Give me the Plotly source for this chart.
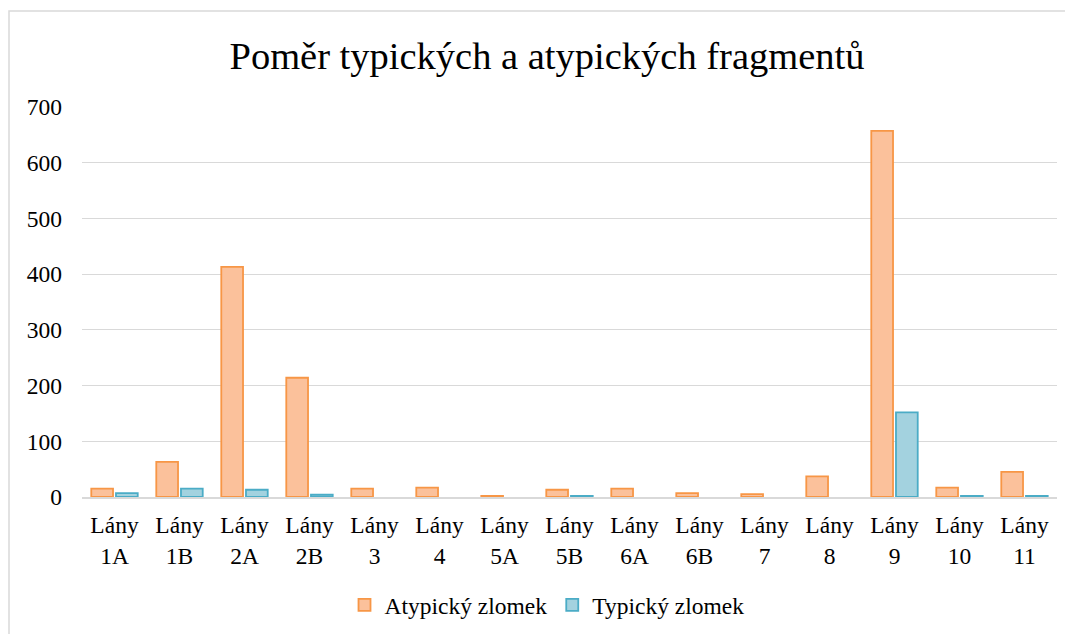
import plotly.graph_objects as go

categories = ["Lány<br>1A", "Lány<br>1B", "Lány<br>2A", "Lány<br>2B", "Lány<br>3", "Lány<br>4",
              "Lány<br>5A", "Lány<br>5B", "Lány<br>6A", "Lány<br>6B", "Lány<br>7", "Lány<br>8",
              "Lány<br>9", "Lány<br>10", "Lány<br>11"]
atypicky = [15, 63, 413, 214, 15, 17, 2, 13, 15, 7, 5, 37, 657, 17, 45]
typicky = [7, 15, 13, 4, 0, 0, 0, 2, 0, 0, 0, 0, 152, 2, 2]

title_text = "Poměr typických a atypických fragmentů"
font_family = "Liberation Serif, Times New Roman, serif"

# page body offset (default 8px margin) compensation
OFF = 8

fig = go.Figure()
fig.add_trace(go.Bar(
    x=categories, y=atypicky, name="Atypický zlomek",
    marker=dict(color="#FBC19B",
                line=dict(color="#F79646", width=[1.8 if v else 0 for v in atypicky])),
))
fig.add_trace(go.Bar(
    x=categories, y=typicky, name="Typický zlomek",
    marker=dict(color="#A3D2DF",
                line=dict(color="#4BACC6", width=[1.8 if v else 0 for v in typicky])),
))

L, T, PW, PH = 82 - OFF, 107 - OFF, 975, 390
W, H = 1073, 634
bottom = T + PH

fig.update_layout(
    width=W, height=H,
    margin=dict(l=L, r=W - L - PW, t=T, b=H - T - PH, autoexpand=False),
    paper_bgcolor="white", plot_bgcolor="white",
    font=dict(family=font_family, size=23.5, color="#000000"),
    barmode="group", bargap=0.24, bargroupgap=0.12,
    title=dict(text=title_text, font=dict(family=font_family, size=38.5, color="#000000"),
               x=(547 - OFF) / W, xref="container", xanchor="center",
               y=1 - (56 - OFF) / H, yref="container", yanchor="middle"),
    showlegend=True,
    legend=dict(orientation="h", xref="container", yref="container",
                x=(547 - OFF) / W, xanchor="center", y=1 - (605 - OFF) / H, yanchor="middle",
                font=dict(family=font_family, size=23.5), itemclick=False),
    yaxis=dict(range=[0, 700], dtick=100, showgrid=True, gridcolor="#D9D9D9", gridwidth=1,
               zeroline=False, showline=False, ticks="", ticklabelstandoff=19,
               tickfont=dict(family=font_family, size=23.5)),
    xaxis=dict(showline=True, linecolor="#D9D9D9", linewidth=1.5, ticks="",
               tickfont=dict(family=font_family, size=23.5), ticklabelstandoff=6),
    shapes=[dict(type="rect", xref="paper", yref="paper",
                 x0=(9 - OFF - L) / PW, x1=(1090 - L) / PW,
                 y0=(bottom - 660) / PH, y1=(bottom - (11 - OFF)) / PH,
                 line=dict(color="#D9D9D9", width=1.5), fillcolor="rgba(0,0,0,0)", layer="below")],
)

fig.write_html("out.html")
